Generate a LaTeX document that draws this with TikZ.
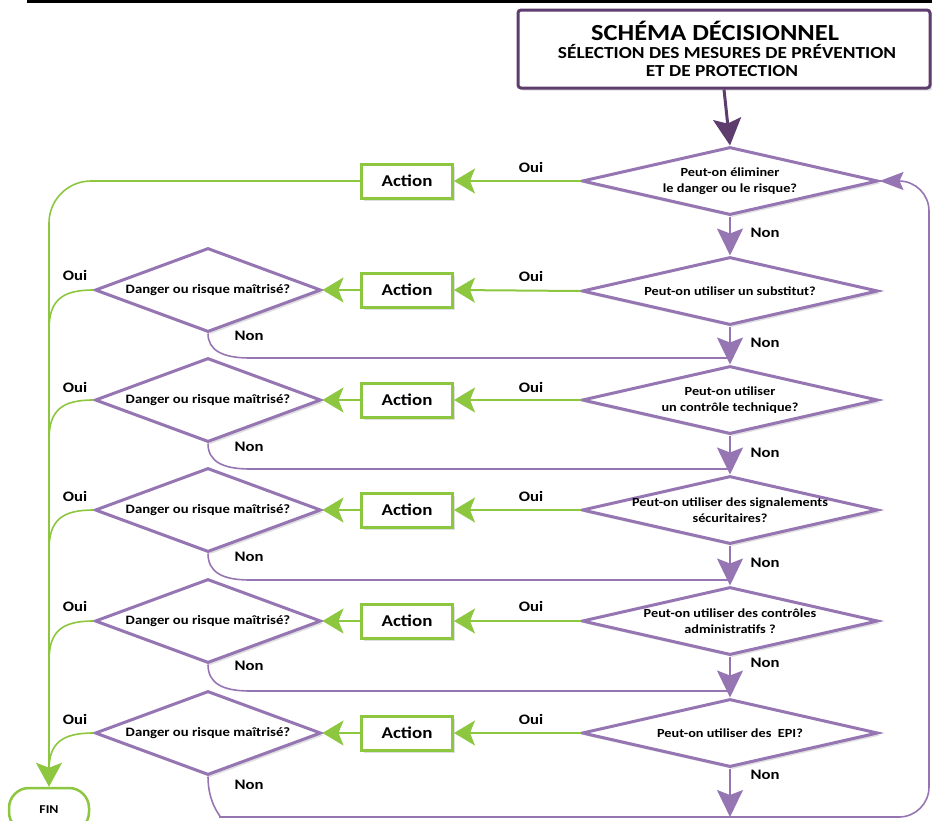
\documentclass[tikz,border=0pt]{standalone}
\usepackage{fontspec}
\setmainfont{Carlito}[FakeStretch=1.15]
\usetikzlibrary{shapes.geometric,arrows.meta,shadows}
\definecolor{pur}{HTML}{9676B2}
\definecolor{dpur}{HTML}{5E3D6E}
\definecolor{grn}{HTML}{8DC63F}
\begin{document}
\begin{tikzpicture}[x=1pt,y=-1pt,
  sh/.style={drop shadow={fill=black,opacity=0.13,shadow xshift=2.5pt,shadow yshift=-2.5pt}},
  dia/.style={diamond,draw=pur,line width=3pt,fill=white,inner sep=0pt,minimum width=296pt,minimum height=68pt,sh},
  ldia/.style={diamond,draw=pur,line width=3pt,fill=white,inner sep=0pt,minimum width=226pt,minimum height=84pt,sh},
  dtxt/.style={align=center,inner sep=0pt,font=\fontsize{12.4}{15.5}\selectfont\bfseries},
  ltxt/.style={align=center,inner sep=0pt,font=\fontsize{12.8}{15.5}\selectfont\bfseries},
  ttxt/.style={anchor=base,inner sep=0pt,font=\fontsize{16.8}{18}\selectfont\bfseries},
  act/.style={draw=grn,line width=3pt,fill=white,inner sep=0pt,minimum width=91pt,minimum height=34pt,sh,font=\fontsize{16.5}{18}\selectfont\bfseries},
  lab/.style={inner sep=0pt,font=\fontsize{14.5}{16}\selectfont\bfseries},
  parrow/.style={draw=pur,line width=2pt,-{Stealth[length=27pt,width=26pt,inset=5pt]}},
  tarrow/.style={draw=dpur,line width=3pt,-{Stealth[length=27pt,width=28pt,inset=5pt]}},
  pline/.style={draw=pur,line width=1.6pt},
  garrow/.style={draw=grn,line width=2pt,-{Stealth[length=21pt,width=25pt,inset=5pt]}},
  gline/.style={draw=grn,line width=1.6pt},
]
\useasboundingbox (0,0) rectangle (932,820);
\coordinate (rl0) at (27,1.2);
\coordinate (rl1) at (932,1.2);
\draw[line width=2.6pt] (rl0) -- (rl1);

% title
\node[draw=dpur,line width=3pt,fill=white,rounded corners=3pt,minimum width=412pt,minimum height=78pt,inner sep=0pt,sh] (tbox) at (724,49) {};
\node[ttxt,font=\fontsize{23}{25}\selectfont\bfseries] (t1) at (715,40.5) {SCHÉMA DÉCISIONNEL};
\node[ttxt] (t2) at (727,58) {SÉLECTION DES MESURES DE PRÉVENTION};
\node[ttxt] (t3) at (722,76) {ET DE PROTECTION};

% right diamonds
\node[dia] (d1) at (730,181) {};
\node[dtxt] (d1t) at (d1) {Peut-on éliminer\\le danger ou le risque?};
\node[dia] (d2) at (730,291) {};
\node[dtxt] (d2t) at (d2) {Peut-on utiliser un substitut?};
\node[dia] (d3) at (730,400) {};
\node[dtxt] (d3t) at (d3) {Peut-on utiliser\\un contrôle technique?};
\node[dia] (d4) at (730,510) {};
\node[dtxt] (d4t) at (d4) {Peut-on utiliser des signalements\\sécuritaires?};
\node[dia] (d5) at (730,621) {};
\node[dtxt] (d5t) at (d5) {Peut-on utiliser des contrôles\\administratifs ?};
\node[dia] (d6) at (730,733) {};
\node[dtxt] (d6t) at (d6) {Peut-on utiliser des\ \ EPI?};

% actions
\node[act] (a1) at (407,181) {Action};
\node[act] (a2) at (407,290) {Action};
\node[act] (a3) at (407,400) {Action};
\node[act] (a4) at (407,510) {Action};
\node[act] (a5) at (407,621) {Action};
\node[act] (a6) at (407,733) {Action};

% left diamonds
\node[ldia] (l2) at (208,290) {};
\node[ltxt] (l2t) at (l2) {Danger ou risque maîtrisé?};
\node[ldia] (l3) at (208,400) {};
\node[ltxt] (l3t) at (l3) {Danger ou risque maîtrisé?};
\node[ldia] (l4) at (208,510) {};
\node[ltxt] (l4t) at (l4) {Danger ou risque maîtrisé?};
\node[ldia] (l5) at (208,621) {};
\node[ltxt] (l5t) at (l5) {Danger ou risque maîtrisé?};
\node[ldia] (l6) at (208,733) {};
\node[ltxt] (l6t) at (l6) {Danger ou risque maîtrisé?};

% FIN
\node[draw=grn,line width=2.5pt,fill=white,rounded corners=20pt,minimum width=80pt,minimum height=44pt,inner sep=0pt,font=\fontsize{12}{14}\selectfont\bfseries] (fin) at (49,810) {FIN};

% labels
\node[lab] (or1) at (531,167) {Oui};
\node[lab] (or2) at (531,276) {Oui};
\node[lab] (or3) at (531,387) {Oui};
\node[lab] (or4) at (531,496) {Oui};
\node[lab] (or5) at (531,606) {Oui};
\node[lab] (or6) at (531,719) {Oui};
\node[lab] (ol2) at (75,275) {Oui};
\node[lab] (ol3) at (75,387) {Oui};
\node[lab] (ol4) at (75,496) {Oui};
\node[lab] (ol5) at (75,606) {Oui};
\node[lab] (ol6) at (75,719) {Oui};
\node[lab] (nr1) at (765,233) {Non};
\node[lab] (nr2) at (765,343) {Non};
\node[lab] (nr3) at (765,453) {Non};
\node[lab] (nr4) at (765,563) {Non};
\node[lab] (nr5) at (765,663) {Non};
\node[lab] (nr6) at (765,775) {Non};
\node[lab] (nl2) at (249,336) {Non};
\node[lab] (nl3) at (249,447) {Non};
\node[lab] (nl4) at (249,557) {Non};
\node[lab] (nl5) at (249,666) {Non};
\node[lab] (nl6) at (249,785) {Non};

% purple non lines from left diamonds
\draw[pline] (l2.south) .. controls (208,350) and (222,358) .. (250,358) -- (730,358);
\draw[pline] (l3.south) .. controls (208,461) and (222,469) .. (250,469) -- (730,469);
\draw[pline] (l4.south) .. controls (208,572) and (222,580) .. (250,580) -- (730,580);
\draw[pline] (l5.south) .. controls (208,683) and (222,691) .. (250,691) -- (730,691);
\draw[pline,rounded corners=30pt,-{Stealth[length=24pt,width=18pt,inset=4pt]}]
  (l6.south) .. controls (208,805) and (222,817) .. (250,817) -- (929,817) -- (929,181) -- (d1.east);

% title arrow and non arrows
\draw[tarrow] (tbox.south) -- (d1.north);
\coordinate (e6) at (730,817);
\draw[parrow] (d1.south) -- (d2.north);
\draw[parrow] (d2.south) -- (d3.north);
\draw[parrow] (d3.south) -- (d4.north);
\draw[parrow] (d4.south) -- (d5.north);
\draw[parrow] (d5.south) -- (d6.north);
\draw[parrow] (d6.south) -- (e6);

% green connectors
\draw[garrow] (d1.west) -- (a1.east);
\draw[garrow] (d2.west) -- (a2.east);
\draw[garrow] (d3.west) -- (a3.east);
\draw[garrow] (d4.west) -- (a4.east);
\draw[garrow] (d5.west) -- (a5.east);
\draw[garrow] (d6.west) -- (a6.east);
\draw[garrow] (a2.west) -- (l2.east);
\draw[garrow] (a3.west) -- (l3.east);
\draw[garrow] (a4.west) -- (l4.east);
\draw[garrow] (a5.west) -- (l5.east);
\draw[garrow] (a6.west) -- (l6.east);
\draw[gline,rounded corners=42pt,-{Stealth[length=24pt,width=26pt,inset=5pt]}] (a1.west) -- (49,181) -- (fin.north);
\draw[gline] (l2.west) .. controls (62,290) and (49,300) .. (49,330);
\draw[gline] (l3.west) .. controls (62,400) and (49,410) .. (49,440);
\draw[gline] (l4.west) .. controls (62,510) and (49,520) .. (49,550);
\draw[gline] (l5.west) .. controls (62,621) and (49,631) .. (49,661);
\draw[gline] (l6.west) .. controls (62,733) and (49,743) .. (49,770);
\end{tikzpicture}
\end{document}
